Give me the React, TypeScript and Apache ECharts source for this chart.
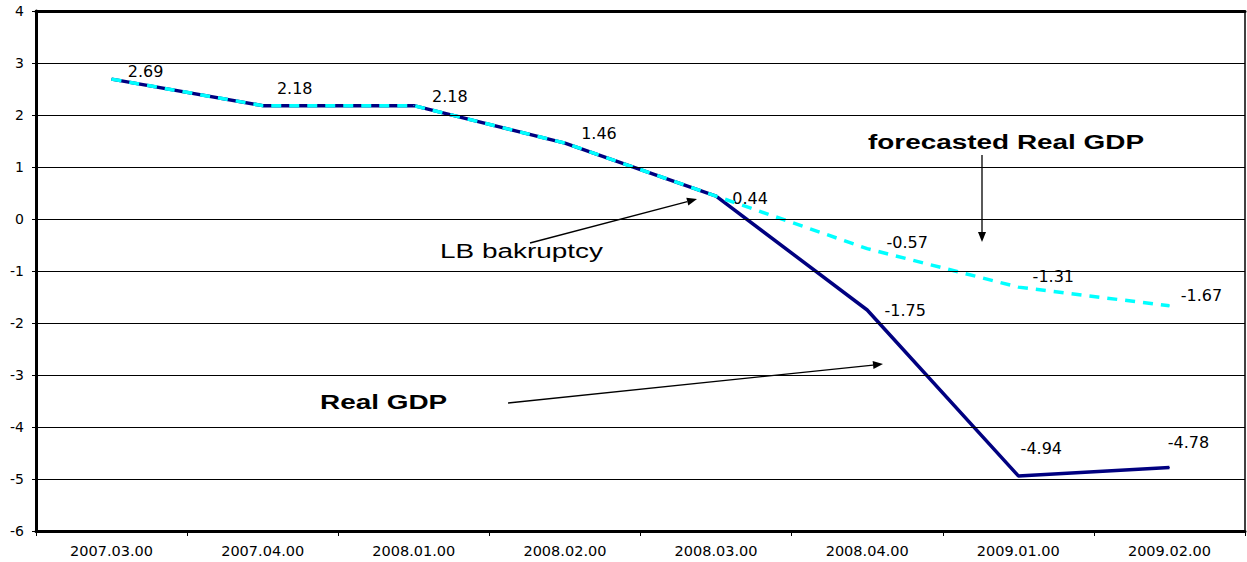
import React, { useEffect, useRef } from "react";
import * as echarts from "echarts";

const categories = [
  "2007.03.00",
  "2007.04.00",
  "2008.01.00",
  "2008.02.00",
  "2008.03.00",
  "2008.04.00",
  "2009.01.00",
  "2009.02.00",
];
const realGDP = [2.69, 2.18, 2.18, 1.46, 0.44, -1.75, -4.94, -4.78];
const forecastGDP = [2.69, 2.18, 2.18, 1.46, 0.44, -0.57, -1.31, -1.67];
const forecastLabelFrom = 5;
const yTicks = { min: -6, max: 4, interval: 1 };

// label offsets (style only)
const realLabelOffsets: [number, number][] = [
  [34, -8], [32, -17], [36, -9], [34, -10], [34, 2], [38, 0], [23, -27], [19, -25],
];
const forecastLabelOffsets: [number, number][] = [
  [0, 0], [0, 0], [0, 0], [0, 0], [0, 0], [40, -6], [35, -11], [32, -10],
];

const FONT = "'Liberation Sans', Arial, sans-serif";
const WIDE = "'DejaVu Sans', sans-serif";

function arrow(x1: number, y1: number, x2: number, y2: number) {
  const dx = x2 - x1;
  const dy = y2 - y1;
  const len = Math.sqrt(dx * dx + dy * dy);
  const ux = dx / len;
  const uy = dy / len;
  const hl = 10;
  const hw = 4;
  const bx = x2 - ux * hl;
  const by = y2 - uy * hl;
  const px = -uy * hw;
  const py = ux * hw;
  return [
    {
      type: "line",
      shape: { x1, y1, x2: bx, y2: by },
      style: { stroke: "#000", lineWidth: 1.3 },
      silent: true,
    },
    {
      type: "polygon",
      shape: {
        points: [
          [x2, y2],
          [bx + px, by + py],
          [bx - px, by - py],
        ],
      },
      style: { fill: "#000" },
      silent: true,
    },
  ];
}

function note(x: number, y: number, text: string, bold: boolean) {
  return {
    type: "text",
    x,
    y,
    scaleX: 1.33,
    style: {
      text,
      font: `${bold ? "bold " : ""}21px ${FONT}`,
      fill: "#000",
      verticalAlign: "middle",
    },
  };
}

export default function App() {
  const ref = useRef<HTMLDivElement>(null);
  useEffect(() => {
    if (!ref.current) return;
    const chart = echarts.init(ref.current, undefined, { renderer: "svg" });
    const labelStyle = {
      show: true,
      fontFamily: WIDE,
      fontSize: 16,
      color: "#000",
      position: "inside",
    };
    chart.setOption({
      animation: false,
      backgroundColor: "#fff",
      grid: {
        left: 36,
        right: 2,
        top: 11,
        bottom: 31,
        show: false,
      },
      xAxis: [
        {
          type: "category",
          data: categories,
          boundaryGap: true,
          axisLine: { onZero: false, lineStyle: { color: "#000", width: 3 } },
          axisTick: { show: true, length: 5, lineStyle: { color: "#000", width: 1 } },
          axisLabel: { fontFamily: WIDE, fontSize: 14.5, color: "#000", margin: 12 },
          splitLine: { show: false },
          z: 5,
        },
        {
          type: "category",
          data: categories,
          position: "top",
          axisLine: { onZero: false, lineStyle: { color: "#000", width: 3 } },
          axisTick: { show: false },
          axisLabel: { show: false },
          splitLine: { show: false },
          z: 5,
        },
      ],
      yAxis: [
        {
          type: "value",
          min: yTicks.min,
          max: yTicks.max,
          interval: yTicks.interval,
          axisLine: { show: true, onZero: false, lineStyle: { color: "#000", width: 3 } },
          axisTick: { show: true, length: 4, lineStyle: { color: "#000" } },
          axisLabel: { fontFamily: WIDE, fontSize: 14, color: "#000", margin: 12 },
          splitLine: { show: true, lineStyle: { color: "#000", width: 1 } },
          z: 5,
        },
        {
          type: "value",
          position: "right",
          min: yTicks.min,
          max: yTicks.max,
          interval: yTicks.interval,
          axisLine: { show: true, onZero: false, lineStyle: { color: "#000", width: 1.5 } },
          axisTick: { show: false },
          axisLabel: { show: false },
          splitLine: { show: false },
        },
      ],
      series: [
        {
          name: "Real GDP",
          type: "line",
          data: realGDP.map((v, i) => ({
            value: v,
            label: { ...labelStyle, offset: realLabelOffsets[i] },
          })),
          symbol: "circle",
          symbolSize: 1,
          showSymbol: true,
          showAllSymbol: true,
          itemStyle: { color: "#000080" },
          lineStyle: { color: "#000080", width: 3.5 },
          z: 2,
        },
        {
          name: "forecasted Real GDP",
          type: "line",
          data: forecastGDP.map((v, i) => ({
            value: v,
            label: {
              ...labelStyle,
              show: i >= forecastLabelFrom,
              offset: forecastLabelOffsets[i],
            },
          })),
          symbol: "circle",
          symbolSize: 1,
          showSymbol: true,
          showAllSymbol: true,
          itemStyle: { color: "#00FFFF" },
          lineStyle: { color: "#00FFFF", width: 3.5, type: [10, 8] },
          z: 3,
        },
      ],
      graphic: [
        note(868, 142, "forecasted Real GDP", true),
        ...arrow(982, 155, 982, 242),
        note(440, 251, "LB bakruptcy", false),
        ...arrow(530, 243, 697, 199),
        note(320, 402, "Real GDP", true),
        ...arrow(508, 403, 883, 364),
      ],
    });
    return () => chart.dispose();
  }, []);
  return (
    <div
      ref={ref}
      style={{ position: "fixed", left: 0, top: 0, width: 1247, height: 562 }}
    />
  );
}
